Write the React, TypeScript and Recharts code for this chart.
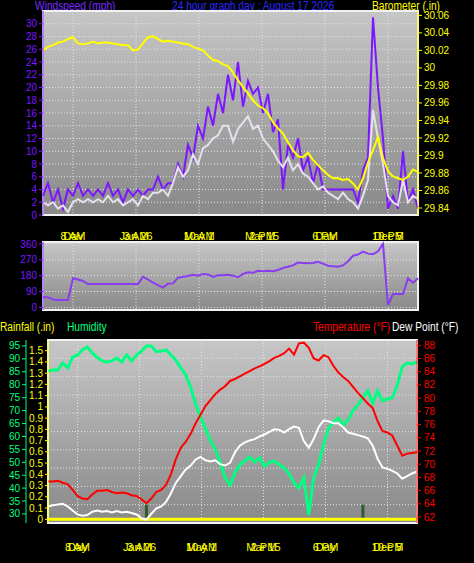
import React from 'react';
import { ComposedChart, Line, Bar, XAxis, YAxis, CartesianGrid, ReferenceArea } from 'recharts';

const FONT = 'Liberation Sans, Arial, sans-serif';

// time axis (sample index 0..75 over the day)
const timeTicks = [6, 18.6, 31.2, 43.8, 56.4, 69];
const hourLabels = ['8 AM', '3 AM', '10 AM', '2 PM', '6 PM', '10 PM'];
const dayLabels = ['Day', 'Jan 26', 'May 1', 'Mar 15', 'Day', 'Dec 5'];

const windTicks = [0, 2, 4, 6, 8, 10, 12, 14, 16, 18, 20, 22, 24, 26, 28, 30];
const baroTicks = [29.84, 29.86, 29.88, 29.9, 29.92, 29.94, 29.96, 29.98, 30, 30.02, 30.04, 30.06];
const dirTicks = [0, 90, 180, 270, 360];
const dirLetters = ['N', 'E', 'S', 'W', 'N'];
const rainTicks = [0, 0.1, 0.2, 0.3, 0.4, 0.5, 0.6, 0.7, 0.8, 0.9, 1, 1.1, 1.2, 1.3, 1.4, 1.5];
const humTicks = [30, 35, 40, 45, 50, 55, 60, 65, 70, 75, 80, 85, 90, 95];
const tempTicks = [62, 64, 66, 68, 70, 72, 74, 76, 78, 80, 82, 84, 86, 88];
const gridSteps = [0, 1, 2, 3, 4, 5, 6, 7, 8, 9, 10];
const rainDomain = [-0.033, 1.595];

// windspeed (mph)
const windGust = [3, 5, 2, 4, 1, 4, 3, 5, 3, 4, 3, 4, 3, 5, 3, 4, 2, 4, 3, 4, 3, 4, 4, 6, 4, 5, 5, 8, 6, 11, 9, 14, 12, 17, 14, 19, 16, 22, 18, 24, 17, 21, 19, 20, 16, 19, 13, 15, 4, 11, 9, 12, 7, 9, 5, 8, 4, 4, 4, 4, 4, 4, 4, 2, 7, 9, 31, 20, 12, 1, 3, 1, 10, 2, 4, 1];
const windAvg = [2, 1.5, 2, 1, 1.5, 0.5, 2, 2.5, 2, 2.5, 2, 2.5, 2, 3, 2, 2.5, 1.5, 2, 2.5, 1.5, 3, 2.5, 3.5, 3.5, 4, 3, 5, 7.5, 6, 7, 9.5, 8, 10.5, 11, 12, 12.5, 14, 14, 11.5, 13.5, 14.5, 15.5, 13.5, 14, 12, 11, 10, 8.5, 7.5, 9, 7, 8, 6.5, 6, 5, 4, 4.5, 3.5, 3, 2.5, 3.5, 2.5, 2, 1, 3, 5.5, 16.5, 12, 8, 3, 2, 1.5, 5.5, 2, 3, 2.5];
// barometer (in)
const barometer = [30.02, 30.024, 30.026, 30.029, 30.03, 30.033, 30.035, 30.028, 30.027, 30.028, 30.03, 30.028, 30.029, 30.029, 30.028, 30.027, 30.026, 30.026, 30.02, 30.021, 30.028, 30.035, 30.036, 30.033, 30.03, 30.031, 30.03, 30.029, 30.028, 30.027, 30.024, 30.022, 30.02, 30.014, 30.009, 30.008, 30.004, 30.002, 29.995, 29.986, 29.978, 29.971, 29.963, 29.957, 29.954, 29.948, 29.938, 29.931, 29.925, 29.915, 29.906, 29.899, 29.898, 29.903, 29.895, 29.889, 29.883, 29.878, 29.874, 29.874, 29.872, 29.873, 29.868, 29.861, 29.874, 29.892, 29.906, 29.921, 29.897, 29.882, 29.876, 29.874, 29.872, 29.876, 29.884, 29.881];
// wind direction (degrees)
const windDir = [57, 57, 45, 42, 42, 42, 165, 158, 150, 132, 132, 132, 132, 132, 132, 132, 132, 132, 132, 132, 174, 158, 140, 126, 112, 134, 136, 168, 174, 178, 185, 180, 189, 187, 173, 182, 182, 185, 180, 171, 190, 199, 196, 208, 205, 208, 205, 212, 223, 231, 238, 254, 252, 250, 252, 259, 248, 236, 233, 231, 238, 262, 293, 300, 316, 305, 302, 318, 360, 13, 76, 76, 76, 165, 140, 165];
// rainfall (in), rain rate marks
const rainfall = [0, 0, 0, 0, 0, 0, 0, 0, 0, 0, 0, 0, 0, 0, 0, 0, 0, 0, 0, 0, 0, 0, 0, 0, 0, 0, 0, 0, 0, 0, 0, 0, 0, 0, 0, 0, 0, 0, 0, 0, 0, 0, 0, 0, 0, 0, 0, 0, 0, 0, 0, 0, 0, 0, 0, 0, 0, 0, 0, 0, 0, 0, 0, 0, 0, 0, 0, 0, 0, 0, 0, 0, 0, 0, 0, 0];
const rainRate = [0, 0, 0, 0, 0, 0, 0, 0, 0, 0, 0, 0, 0, 0, 0, 0, 0, 0, 0, 0, 0.13, 0, 0, 0, 0, 0, 0, 0, 0, 0, 0, 0, 0, 0, 0, 0, 0, 0, 0, 0, 0, 0, 0, 0, 0, 0, 0, 0, 0, 0, 0, 0, 0, 0, 0, 0, 0, 0, 0, 0, 0, 0, 0, 0, 0.13, 0, 0, 0, 0, 0, 0, 0, 0, 0, 0, 0];
// humidity (%)
const humidity = [85.3, 85.7, 85.7, 88.4, 86.5, 90.7, 91.5, 93.5, 94.6, 92.3, 90.5, 89.2, 88.8, 89.2, 90.3, 88.8, 91.5, 89.2, 91.5, 93, 95, 95, 92.8, 93, 93.5, 91.5, 89.5, 86.5, 83.8, 79, 72.5, 67.5, 63, 58.5, 55, 50, 44, 41.2, 46, 49, 50.5, 52, 50, 51.7, 48.5, 50, 50.5, 49, 47.8, 45.5, 42, 40, 44, 29.6, 44, 49, 56.7, 63, 65.5, 67.1, 64.4, 66.5, 70, 72.2, 74.9, 77.6, 73, 77.6, 73.7, 74.5, 75, 79.9, 87, 88.4, 88, 88.8];
// temperature and dew point (°F)
const temperature = [67.4, 67.4, 67.5, 67.2, 67, 66.1, 65.2, 64.8, 64.7, 65.4, 66, 66, 66.1, 65.8, 65.6, 65.7, 65.6, 65.3, 65.2, 64.7, 64.1, 64.8, 65.8, 66.1, 66.9, 68.5, 70.8, 72.5, 73.4, 74.6, 76.2, 77.5, 78.8, 79.7, 80.6, 81.3, 81.8, 82.6, 82.9, 83.3, 83.7, 84.1, 84.5, 84.8, 85.2, 85.6, 86.1, 86.4, 86.8, 87.5, 86.6, 88.3, 88.4, 87.6, 86, 85.7, 86.5, 86.2, 84.9, 83.9, 83.2, 82.6, 81.7, 80.8, 80, 79.2, 78.5, 76.5, 75, 74.8, 74.3, 72.8, 71.3, 71.6, 71.7, 71.8];
const dewPoint = [63.6, 63.8, 63.9, 64, 63.6, 63, 62.4, 62.2, 62.3, 62.8, 63, 62.8, 62.9, 62.7, 62.9, 62.7, 62.8, 62.6, 62.4, 61.8, 61.6, 62.5, 63.3, 63.6, 64.3, 65.6, 67.2, 68.2, 69.2, 69.8, 70.7, 71.1, 70.6, 70.4, 70.6, 70, 69.8, 70.2, 71.8, 72.8, 73.3, 73.6, 73.8, 74.2, 74.5, 74.9, 75.3, 75.2, 74.8, 75.3, 75.7, 75.5, 73.5, 72.5, 73.8, 75.6, 76.6, 76.5, 76.2, 76.2, 75.6, 74.8, 74.6, 74.4, 74.2, 73.9, 72.8, 70.8, 69.5, 69.3, 69, 68.6, 67.8, 68.2, 68.6, 68.9];

const windRows = windGust.map((g, i) => ({ i, gust: g, avg: windAvg[i], baro: barometer[i], dir: windDir[i] }));
const weatherRows = humidity.map((h, i) => ({
  i, hum: h, temp: temperature[i], dew: dewPoint[i], rain: rainfall[i], rate: rainRate[i],
}));

const TimeTick = (props: any) => {
  const { x, y, payload, dy = 17 } = props;
  const k = timeTicks.indexOf(payload.value);
  return (
    <g fontFamily={FONT} fontSize={11} fill="#ffff00" textAnchor="middle">
      <text x={x} y={y + dy}>{dayLabels[k]}</text>
      <text x={x} y={y + dy}>{hourLabels[k]}</text>
    </g>
  );
};

const SideTick = (props: any) => {
  const { x, y, payload, color } = props;
  return (
    <text x={x} y={y + 3.5} textAnchor="end" fill={color} fontSize={10} fontFamily={FONT}>
      {String(Number(Number(payload.value).toFixed(2)))}
    </text>
  );
};

const Gradient = ({ id }: { id: string }) => (
  <defs>
    <linearGradient id={id} x1="0" y1="0" x2="0" y2="1">
      <stop offset="0%" stopColor="#c6c6c6" />
      <stop offset="100%" stopColor="#898989" />
    </linearGradient>
  </defs>
);

const label = (left: number, top: number, color: string, text: string) => (
  <div style={{
    position: 'absolute', left, top, color, fontFamily: FONT, fontSize: 12, lineHeight: '14px',
    whiteSpace: 'nowrap', transform: 'scaleX(0.85)', transformOrigin: 'left top',
  }}>
    {text}
  </div>
);

const PURPLE = '#7b16ff';
const small = (fill: string) => ({ fill, fontSize: 10, fontFamily: FONT });

// ten equal horizontal divisions for the lower panel's grid
const tenths = ({ offset }: any) => gridSteps.map((s) => offset.top + (offset.height * s) / 10);

export default function App() {
  return (
    <div style={{ position: 'absolute', left: 0, top: 0, width: 474, height: 563, background: '#000', overflow: 'hidden' }}>
      {label(35, -1, '#7a2cff', 'Windspeed (mph)')}
      {label(172, -1, '#2a2aff', '24 hour graph day : August 17 2026')}
      {label(372, -1, '#ffff00', 'Barometer (.in)')}

      <div style={{ position: 'absolute', left: 0, top: 0 }}>
        <ComposedChart width={474} height={240} data={windRows} margin={{ top: 11, right: 0, bottom: 0, left: 0 }}>
          <Gradient id="bg1" />
          <CartesianGrid yAxisId="wind" fill="url(#bg1)" stroke="#e4e4e4" strokeDasharray="1 2" />
          <XAxis dataKey="i" type="number" domain={[0, 75]} ticks={timeTicks} interval={0} height={25} tick={<TimeTick dy={17} />} tickLine={false} axisLine={false} />
          <YAxis yAxisId="wind" domain={[0, 32]} ticks={windTicks} interval={0} width={43} tick={small(PURPLE)} stroke={PURPLE} tickSize={4} tickMargin={2} />
          <YAxis yAxisId="baro" orientation="right" domain={[29.832, 30.065]} ticks={baroTicks} interval={0} width={56} tickFormatter={(v: number) => String(Number(v.toFixed(2)))} tick={small('#ffff00')} stroke="#ffff00" tickSize={4} tickMargin={2} />
          <ReferenceArea yAxisId="wind" x1={0} x2={75} y1={0} y2={32} fill="none" stroke="#f2f2f2" strokeWidth={2} />
          <Line yAxisId="wind" dataKey="gust" stroke={PURPLE} strokeWidth={2} dot={false} isAnimationActive={false} />
          <Line yAxisId="wind" dataKey="avg" stroke="#e6e0ee" strokeWidth={2} dot={false} isAnimationActive={false} />
          <Line yAxisId="baro" dataKey="baro" stroke="#ffff00" strokeWidth={2} dot={false} isAnimationActive={false} />
        </ComposedChart>
      </div>

      <div style={{ position: 'absolute', left: 0, top: 240 }}>
        <ComposedChart width={474} height={75} data={windRows} margin={{ top: 2, right: 0, bottom: 5, left: 0 }}>
          <Gradient id="bg2" />
          <CartesianGrid yAxisId="dir" fill="url(#bg2)" stroke="#e4e4e4" strokeDasharray="1 2" />
          <XAxis dataKey="i" type="number" domain={[0, 75]} ticks={timeTicks} hide />
          <YAxis yAxisId="dir" domain={[-15, 371]} ticks={dirTicks} interval={0} width={43} tick={small(PURPLE)} stroke={PURPLE} tickSize={4} tickMargin={2} />
          <YAxis yAxisId="dirR" orientation="right" domain={[-15, 371]} ticks={dirTicks} interval={0} width={56} tickFormatter={(v: number) => dirLetters[dirTicks.indexOf(v)]} tick={{ fill: '#7030e0', fontSize: 13, fontFamily: FONT }} axisLine={false} tickLine={false} tickMargin={18} />
          <ReferenceArea yAxisId="dir" x1={0} x2={75} y1={-15} y2={371} fill="none" stroke="#f2f2f2" strokeWidth={2} />
          <Line yAxisId="dir" dataKey="dir" stroke="#8a3cf0" strokeWidth={2} dot={false} isAnimationActive={false} />
        </ComposedChart>
      </div>

      {label(0, 320, '#ffff00', 'Rainfall (.in)')}
      {label(67, 320, '#00ff80', 'Humidity')}
      {label(313, 320, '#ff0000', 'Temperature (°F)')}
      {label(392, 320, '#ffffff', 'Dew Point (°F)')}

      <div style={{ position: 'absolute', left: 0, top: 315 }}>
        <ComposedChart width={474} height={248} data={weatherRows} margin={{ top: 25, right: 0, bottom: 0, left: 0 }}>
          <Gradient id="bg3" />
          <CartesianGrid yAxisId="left1" fill="url(#bg3)" stroke="#e4e4e4" strokeDasharray="1 2" horizontalCoordinatesGenerator={tenths} />
          <XAxis dataKey="i" type="number" domain={[0, 75]} ticks={timeTicks} interval={0} height={40} tick={<TimeTick dy={20} />} tickLine={false} axisLine={false} />
          <YAxis yAxisId="left1" type="number" domain={rainDomain} ticks={rainTicks} interval={0} width={22} tick={<SideTick color="#ffff00" />} stroke="#ffff00" tickSize={3} tickMargin={2} />
          <YAxis yAxisId="left2" type="number" domain={[26.5, 97.3]} ticks={humTicks} interval={0} width={26} tick={<SideTick color="#00ff80" />} stroke="#00ff80" tickSize={4} tickMargin={2} />
          <YAxis yAxisId="temp" orientation="right" domain={[61.1, 88.8]} ticks={tempTicks} interval={0} width={57} tick={small('#ff0000')} stroke="#ff0000" tickSize={4} tickMargin={3} />
          <ReferenceArea yAxisId="left1" x1={0} x2={75} y1={rainDomain[0]} y2={rainDomain[1]} fill="none" stroke="#f2f2f2" strokeWidth={2} />
          <Bar yAxisId="left1" dataKey="rate" fill="#2f5a2f" barSize={3} isAnimationActive={false} />
          <Line yAxisId="left1" dataKey="rain" stroke="#ffff00" strokeWidth={3} dot={false} isAnimationActive={false} />
          <Line yAxisId="left2" dataKey="hum" stroke="#00ff80" strokeWidth={3} dot={false} isAnimationActive={false} />
          <Line yAxisId="temp" dataKey="temp" stroke="#ff0000" strokeWidth={2} dot={false} isAnimationActive={false} />
          <Line yAxisId="temp" dataKey="dew" stroke="#ffffff" strokeWidth={2} dot={false} isAnimationActive={false} />
        </ComposedChart>
      </div>
    </div>
  );
}
